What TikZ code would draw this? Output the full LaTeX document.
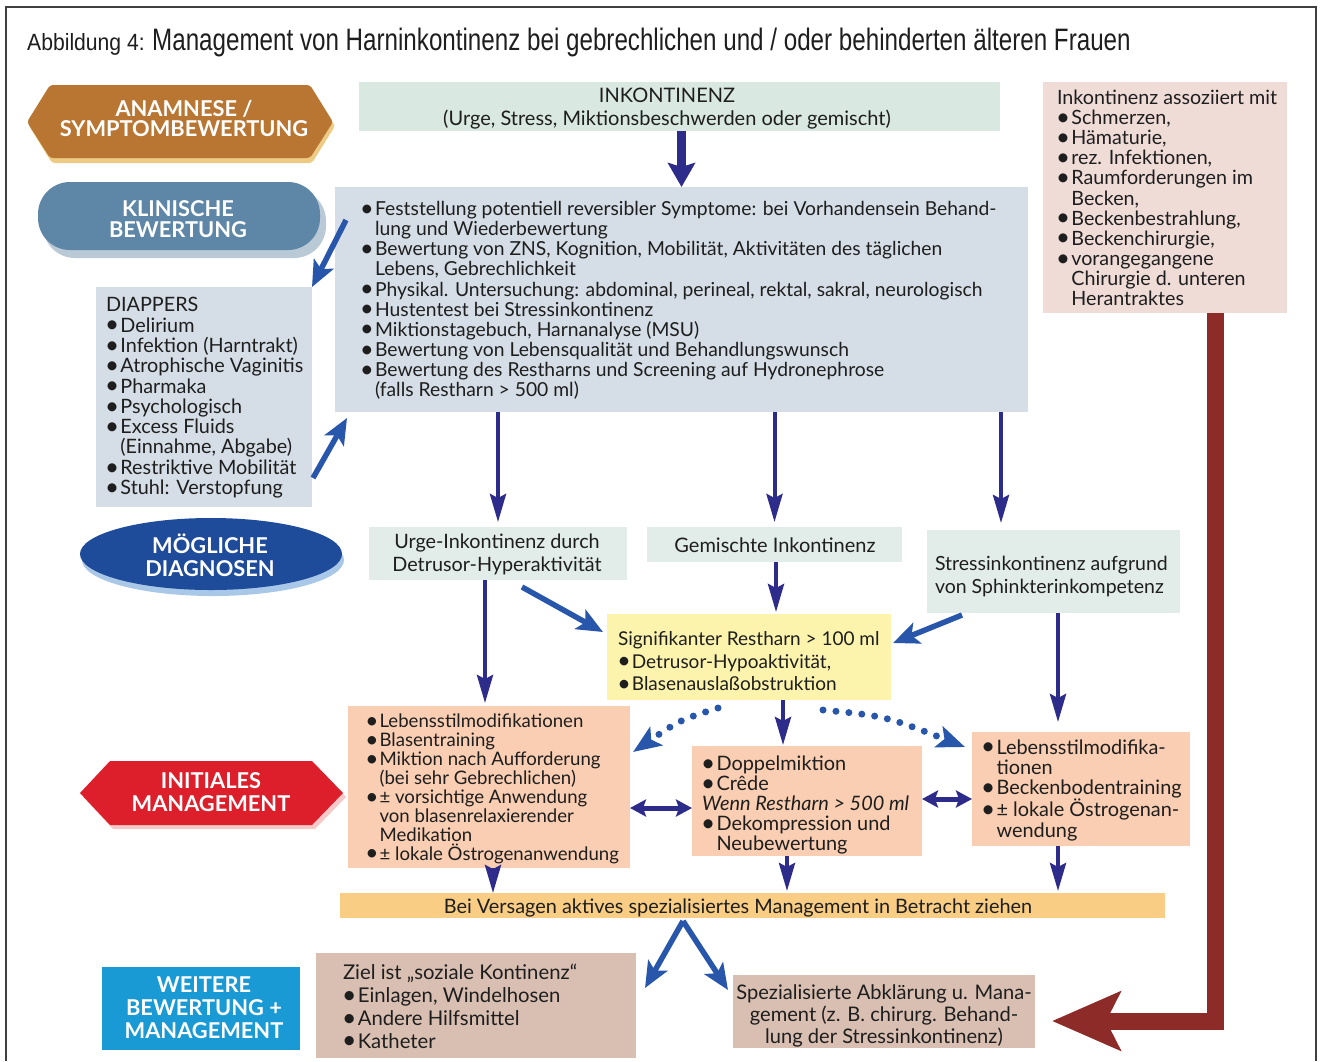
\documentclass[tikz,border=0pt]{standalone}
\usepackage{fontspec}
\setmainfont{Lato}
\newfontfamily\tfont[FakeStretch=0.78]{Liberation Sans}
\newfontfamily\tfontb[FakeStretch=0.9]{Liberation Sans}
\usetikzlibrary{arrows.meta,calc,shapes.geometric}
\definecolor{navyc}{HTML}{2E2C8A}
\definecolor{bluec}{HTML}{2856AA}
\definecolor{redc}{HTML}{8C2B27}
\definecolor{anamc}{HTML}{B87632}
\definecolor{anamsh}{HTML}{EDCB85}
\definecolor{klinc}{HTML}{5E86A6}
\definecolor{klinsh}{HTML}{B9C9D6}
\definecolor{mogc}{HTML}{1E4C9A}
\definecolor{mogsh}{HTML}{A9C8E8}
\definecolor{initc}{HTML}{DD1F2B}
\definecolor{initsh}{HTML}{F6C8C8}
\definecolor{weitc}{HTML}{1A9AD5}
\definecolor{mintc}{HTML}{D9E9E2}
\definecolor{greyc}{HTML}{D5DEE6}
\definecolor{diagc}{HTML}{E2EDE9}
\definecolor{yelc}{HTML}{FCF3AD}
\definecolor{peachc}{HTML}{F9CEB2}
\definecolor{barc}{HTML}{F9CD84}
\definecolor{tanc}{HTML}{D9BFB2}
\definecolor{pinkc}{HTML}{EFDCD7}
\definecolor{textc}{HTML}{1E1E1E}
\newcommand\fs[2]{\fontsize{#1}{#2}\selectfont}
\newcommand\bu{\makebox[0.73em][l]{\hspace*{-0.04em}\raisebox{-0.04em}{\scalebox{1.22}{•}}}}
\newcommand\ind{\hspace*{0.73em}}
\tikzset{
  box/.style={inner sep=0pt, outer sep=0pt, anchor=north west},
  txt/.style={inner sep=0pt, outer sep=0pt, align=left, anchor=base west, text=textc},
  ctxt/.style={inner sep=0pt, outer sep=0pt, align=center, anchor=base, text=textc},
  lbl/.style={inner sep=0pt, outer sep=0pt, align=center, text=white, font=\bfseries\fs{21.8}{23}},
  navyarr/.style={draw=navyc, line width=4pt, -{Stealth[length=28pt,width=16pt,inset=4pt]}},
  bignavy/.style={draw=navyc, line width=9pt, -{Stealth[length=24pt,width=27pt,inset=4pt]}},
  bluearr/.style={draw=bluec, line width=5.5pt, -{Stealth[length=26pt,width=22pt,inset=6pt]}},
  dblarr/.style={draw=navyc, line width=5pt, {Stealth[length=16pt,width=17pt,inset=3pt]}-{Stealth[length=16pt,width=17pt,inset=3pt]}},
  dotarr/.style={draw=bluec, line width=7pt, line cap=round, dash pattern=on 0pt off 13pt, -{Stealth[length=28pt,width=22pt,inset=6pt]}},
  redarr/.style={draw=redc, line width=17pt, line join=miter, -{Stealth[length=68pt,width=58pt,inset=14pt]}}
}
\begin{document}
\begin{tikzpicture}[x=1pt,y=-1pt]
\useasboundingbox (0,0) rectangle (1321,1061);
\fill[white] (0,0) rectangle (1321,1061);
\draw[line width=1.3pt, black!75] (6,1061) -- (6,7) -- (1316,7) -- (1316,1061);

% title
\node[anchor=base west, inner sep=0pt, text=textc, font=\tfontb\fs{23.5}{24}] (title1) at (27,50) {Abbildung 4:};
\node[anchor=base west, inner sep=0pt, text=textc, font=\tfont\fs{31}{31}] (title2) at (152,50) {Management von Harninkontinenz bei gebrechlichen und / oder behinderten älteren Frauen};

% left labels
\fill[anamsh, rounded corners=3pt] (29,126) -- (52,89) -- (312,89) -- (335,126) -- (312,163) -- (52,163) -- cycle;
\fill[anamc, rounded corners=3pt] (27,122) -- (50,85) -- (310,85) -- (333,122) -- (310,158) -- (50,158) -- cycle;
\node[lbl, font=\bfseries\fs{21.8}{20}] (anamlbl) at (184,118.5) {ANAMNESE /\\SYMPTOMBEWERTUNG};

\fill[klinsh, rounded corners=32pt] (43,189) rectangle (326,258);
\fill[klinc, rounded corners=32pt] (38,182) rectangle (320,250);
\node[lbl, font=\bfseries\fs{21.8}{20.5}] (klinlbl) at (178,219) {KLINISCHE\\BEWERTUNG};

\fill[mogsh] (213,560) ellipse [x radius=131pt, y radius=36pt];
\fill[mogc] (211,554) ellipse [x radius=131pt, y radius=36pt];
\node[lbl] (moglbl) at (210,555) {MÖGLICHE\\DIAGNOSEN};

\fill[initsh] (83,797) -- (113,765) -- (315,765) -- (346,797) -- (315,829) -- (113,829) -- cycle;
\fill[initc] (80,793) -- (110,761) -- (312,761) -- (343,793) -- (312,825) -- (110,825) -- cycle;
\node[lbl] (initlbl) at (211,792) {INITIALES\\MANAGEMENT};

\node[box, fill=weitc, minimum width=198pt, minimum height=83pt] (weitbox) at (102,967) {};
\node[lbl] (weitlbl) at (204,1008) {WEITERE\\BEWERTUNG +\\MANAGEMENT};

% boxes
\node[box, fill=mintc, minimum width=641pt, minimum height=49pt] (inkont) at (359,82) {};
\node[box, fill=greyc, minimum width=693pt, minimum height=225pt] (main) at (335,187) {};
\node[box, fill=greyc, minimum width=216pt, minimum height=220pt] (diap) at (96,287) {};
\node[box, fill=pinkc, minimum width=244pt, minimum height=231pt] (assoc) at (1043,82) {};
\node[box, fill=diagc, minimum width=258pt, minimum height=53pt] (urge) at (369,527) {};
\node[box, fill=diagc, minimum width=255pt, minimum height=35pt] (gem) at (647,527) {};
\node[box, fill=diagc, minimum width=253pt, minimum height=83pt] (stress) at (927,530) {};
\node[box, fill=yelc, minimum width=284pt, minimum height=86pt] (yel) at (607,614) {};
\node[box, fill=peachc, minimum width=282pt, minimum height=162pt] (lbox) at (348,706) {};
\node[box, fill=peachc, minimum width=230pt, minimum height=110pt] (mbox) at (692,746) {};
\node[box, fill=peachc, minimum width=218pt, minimum height=114pt] (rbox) at (972,732) {};
\node[box, fill=barc, minimum width=825pt, minimum height=25pt] (bar) at (340,893) {};
\node[box, fill=tanc, minimum width=320pt, minimum height=105pt] (ziel) at (316,953) {};
\node[box, fill=tanc, minimum width=302pt, minimum height=73pt] (sp) at (733,975) {};

% texts (anchor = baseline of last line)
\node[ctxt, font=\fs{20}{23}] (inktxt) at (667,125.5) {INKONTINENZ\\(Urge, Stress, Miktionsbeschwerden oder gemischt)};
\node[txt, font=\fs{19.3}{20.1}] (maintxt) at (361,396.5) {\bu Feststellung potentiell reversibler Symptome: bei Vorhandensein Behand-\\
\ind lung und Wiederbewertung\\
\bu Bewertung von ZNS, Kognition, Mobilität, Aktivitäten des täglichen\\
\ind Lebens, Gebrechlichkeit\\
\bu Physikal. Untersuchung: abdominal, perineal, rektal, sakral, neurologisch\\
\bu Hustentest bei Stressinkontinenz\\
\bu Miktionstagebuch, Harnanalyse (MSU)\\
\bu Bewertung von Lebensqualität und Behandlungswunsch\\
\bu Bewertung des Restharns und Screening auf Hydronephrose\\
\ind (falls Restharn > 500 ml)};
\node[txt, font=\fs{19.8}{20.3}] (diaptxt) at (106,494.5) {DIAPPERS\\
\bu Delirium\\
\bu Infektion (Harntrakt)\\
\bu Atrophische Vaginitis\\
\bu Pharmaka\\
\bu Psychologisch\\
\bu Excess Fluids\\
\ind (Einnahme, Abgabe)\\
\bu Restriktive Mobilität\\
\bu Stuhl: Verstopfung};
\node[txt, font=\fs{19.7}{20.1}] (assoctxt) at (1057,305.5) {Inkontinenz assoziiert mit\\
\bu Schmerzen,\\
\bu Hämaturie,\\
\bu rez. Infektionen,\\
\bu Raumforderungen im\\
\ind Becken,\\
\bu Beckenbestrahlung,\\
\bu Beckenchirurgie,\\
\bu vorangegangene\\
\ind Chirurgie d. unteren\\
\ind Herantraktes};
\node[ctxt, font=\fs{19.8}{23}] (urgetxt) at (497,571.5) {Urge-Inkontinenz durch\\Detrusor-Hyperaktivität};
\node[ctxt, font=\fs{20}{23}] (gemtxt) at (775,552.5) {Gemischte Inkontinenz};
\node[txt, font=\fs{19.5}{23}] (stresstxt) at (935,593.5) {Stressinkontinenz aufgrund\\von Sphinkterinkompetenz};
\node[txt, font=\fs{19}{22.5}] (yeltxt) at (618,690.5) {Signifikanter Restharn > 100 ml\\
\bu Detrusor-Hypoaktivität,\\
\bu Blasenauslaßobstruktion};
\node[txt, font=\fs{18.6}{18.9}] (ltxt) at (366,860) {\bu Lebensstilmodifikationen\\
\bu Blasentraining\\
\bu Miktion nach Aufforderung\\
\ind (bei sehr Gebrechlichen)\\
\bu ± vorsichtige Anwendung\\
\ind von blasenrelaxierender\\
\ind Medikation\\
\bu ± lokale Östrogenanwendung};
\node[txt, font=\fs{19.9}{20}] (mtxt) at (702,850.5) {\bu Doppelmiktion\\
\bu Crêde\\
\textit{Wenn Restharn > 500 ml}\\
\bu Dekompression und\\
\ind Neubewertung};
\node[txt, font=\fs{19.9}{20.2}] (rtxt) at (982,837) {\bu Lebensstilmodifika-\\
\ind tionen\\
\bu Beckenbodentraining\\
\bu ± lokale Östrogenan-\\
\ind wendung};
\node[ctxt, font=\fs{19.9}{22}] (bartxt) at (738,913.5) {Bei Versagen aktives spezialisiertes Management in Betracht ziehen};
\node[txt, font=\fs{20.3}{22.7}] (zieltxt) at (343,1048) {Ziel ist „soziale Kontinenz“\\
\bu Einlagen, Windelhosen\\
\bu Andere Hilfsmittel\\
\bu Katheter};
\node[ctxt, font=\fs{20.1}{22}] (sptxt) at (884,1043.5) {Spezialisierte Abklärung u. Mana-\\gement (z. B. chirurg. Behand-\\lung der Stressinkontinenz)};

% helper coordinates
\coordinate (x1001) at (1001,0);
\coordinate (x485) at (485,0);
\coordinate (x776) at (776,0);
\coordinate (x1058) at (1058,0);
\coordinate (x783) at (783,0);
\coordinate (x493) at (493,0);
\coordinate (x787) at (787,0);
\coordinate (x1215) at (1215,0);
\coordinate (d1s) at (346,220);
\coordinate (d2e) at (347,418);
\coordinate (d2s) at (313,478);
\coordinate (u1) at (522,587);
\coordinate (u2) at (603,632);
\coordinate (s1) at (962,615);
\coordinate (s2) at (893,643);
\coordinate (dl1) at (718,708);
\coordinate (dl2) at (633,752);
\coordinate (dr1) at (823,710);
\coordinate (dr2) at (965,747);
\coordinate (apex) at (683,921);
\coordinate (zt) at (645,988);
\coordinate (st) at (728,990);
\coordinate (redtip) at (1052,1021);

% connectors
\draw[bignavy] (inkont.south -| main.north) -- (main.north);
\draw[navyarr, shorten >=5pt] (main.south -| urge.north) -- (urge.north);
\draw[navyarr, shorten >=5pt] (main.south -| gem.north) -- (gem.north);
\draw[navyarr, shorten >=7pt] (main.south -| x1001) -- (stress.north -| x1001);
\draw[navyarr, shorten >=3pt] (urge.south -| x485) -- (lbox.north -| x485);
\draw[navyarr, shorten >=2pt] (gem.south -| x776) -- (yel.north -| x776);
\draw[navyarr, shorten >=10pt] (stress.south -| x1058) -- (rbox.north -| x1058);
\draw[navyarr, shorten >=1pt] (yel.south -| x783) -- (mbox.north -| x783);
\draw[navyarr] (lbox.south -| x493) -- (bar.north -| x493);
\draw[navyarr, shorten >=2pt] (mbox.south -| x787) -- (bar.north -| x787);
\draw[navyarr, shorten >=2pt] (rbox.south -| x1058) -- (bar.north -| x1058);
\draw[bluearr] (d1s) -- (diap.north east);
\draw[bluearr] (d2s) -- (d2e);
\draw[bluearr] (u1) -- (u2);
\draw[bluearr] (s1) -- (s2);
\draw[bluearr] (apex) -- (zt);
\draw[bluearr] (apex) -- (st);
\draw[dblarr] ([yshift=-21pt]lbox.east) -- ([yshift=-7pt]mbox.west);
\draw[dblarr] ([yshift=2pt]mbox.east) -- ([yshift=-10pt]rbox.west);
\draw[dotarr] (dl1) .. controls (680,720) .. (dl2);
\draw[dotarr] (dr1) .. controls (885,716) .. (dr2);
\draw[redarr] (assoc.south -| x1215) |- (redtip);
\end{tikzpicture}
\end{document}
